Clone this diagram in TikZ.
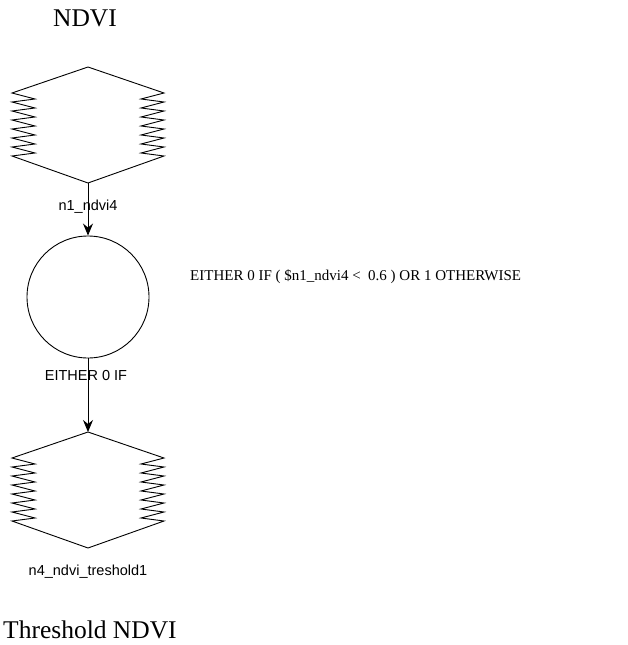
\documentclass[tikz,border=0pt]{standalone}
\usepackage{fontspec}
\setmainfont{Liberation Serif}
\setsansfont{Liberation Sans}
\usetikzlibrary{arrows.meta}
\begin{document}
\begin{tikzpicture}[x=1pt,y=-1pt,
  shapeline/.style={draw=black,line width=0.9pt,line join=miter},
  conn/.style={draw=black,line width=0.9pt,-{Stealth[length=12pt,width=10pt,inset=4pt]}},
  title/.style={font=\fontsize{25.5}{30}\selectfont},
  lbl/.style={font=\sffamily\fontsize{14.5}{17}\selectfont,inner sep=0pt},
  expr/.style={font=\fontsize{15}{18}\selectfont,inner sep=0pt,anchor=west},
  datastore/.pic={
    \coordinate (-top) at (0,-58);
    \coordinate (-bot) at (0,58);
    \draw[shapeline] (0,-58) -- (-76,-32)
      \foreach \i in {0,...,6}{ -- (-53,{-32+9*\i+6}) -- (-76,{-32+9*(\i+1)}) }
      -- (0,58);
    \draw[shapeline] (0,-58) -- (76,-32)
      \foreach \i in {0,...,6}{ -- (53,{-32+9*\i+6}) -- (76,{-32+9*(\i+1)}) }
      -- (0,58);
  }]
\useasboundingbox (0,0) rectangle (627,645);
\node[title] (t1) at (85,18) {NDVI};
\pic (src) at (88,125) {datastore};
\node[lbl] (l1) at (88,207) {n1\_ndvi4};
\node[draw=black,line width=0.9pt,circle,minimum size=122pt,inner sep=0pt] (op) at (88,297) {};
\node[lbl] (l2) at (86,376) {EITHER 0 IF};
\node[expr] (ex) at (190,277) {EITHER 0 IF ( \$n1\_ndvi4 <\ \ 0.6 ) OR 1 OTHERWISE};
\pic (dst) at (88,490) {datastore};
\node[lbl] (l3) at (88,572) {n4\_ndvi\_treshold1};
\node[title,anchor=base west,inner sep=0pt] (t2) at (3,638) {Threshold NDVI};
\draw[conn] (src-bot) -- (op.north);
\draw[conn] (op.south) -- (dst-top);
\end{tikzpicture}
\end{document}
